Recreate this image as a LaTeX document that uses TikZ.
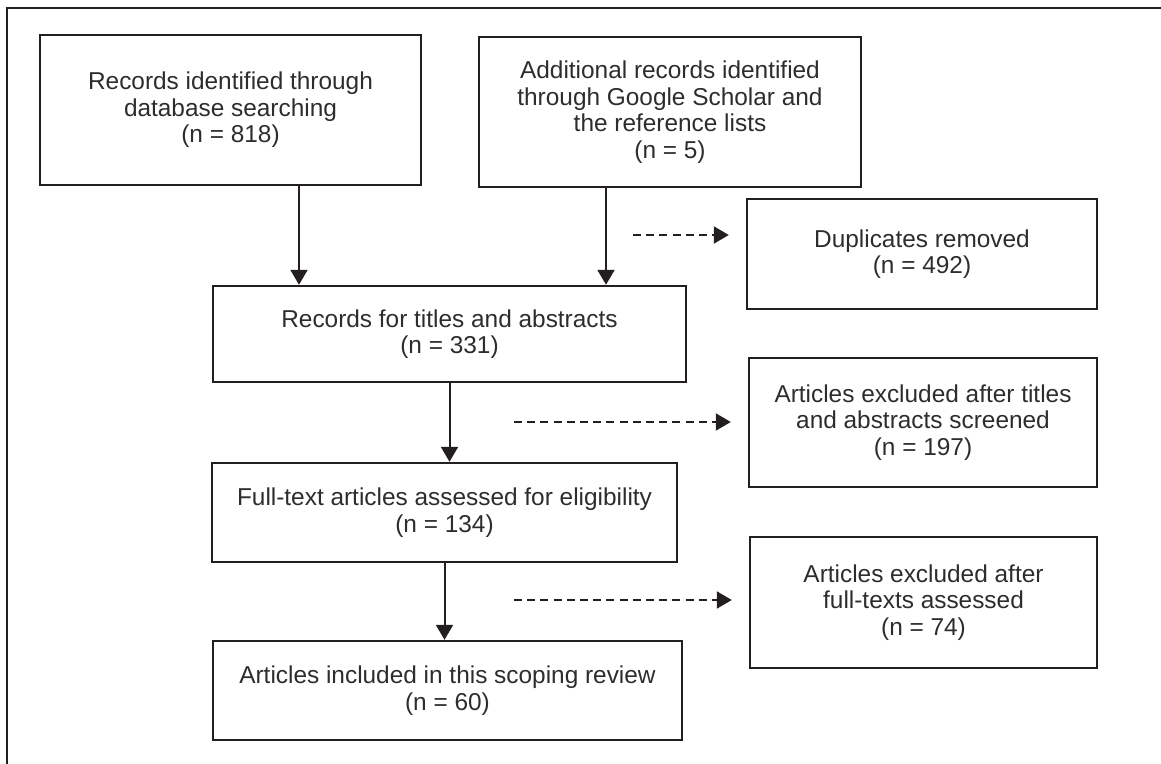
\documentclass[tikz,border=0pt]{standalone}
\usepackage{fontspec}
\setmainfont{Liberation Sans}
\usetikzlibrary{arrows.meta,positioning,calc}
\definecolor{prline}{RGB}{35,31,32}
\definecolor{prtext}{RGB}{45,45,45}
\tikzset{
    stagebox/.style={
        draw=prline,line width=1.2pt,align=center,text=prtext,
        inner sep=0pt,font=\fontsize{12.2}{13.3}\selectfont
    },
    flow/.style={
        -{Triangle[length=7.5pt,width=8.5pt]},line width=1pt,draw=prline
    },
    skip/.style={
        flow,dash pattern=on 4pt off 2.6pt
    }
}

\begin{document}
\begin{tikzpicture}[x=0.5pt,y=-0.5pt]
\useasboundingbox (0,0) rectangle (1161,764);

% frame
\draw[line width=1pt,draw=prline] (7,764) -- (7,8) -- (1161,8);

\node[stagebox,minimum width=190.5pt,minimum height=75pt]
at (230.5,110) (db){Records identified through\\database searching\\(n = 818)};

\node[stagebox,minimum width=191pt,minimum height=75pt]
at (670,112) (gs){Additional records identified\\through Google Scholar and\\the reference lists\\(n = 5)};

\node[stagebox,minimum width=175pt,minimum height=55pt]
at (922,254) (dup){Duplicates removed\\(n = 492)};

\node[stagebox,minimum width=236.5pt,minimum height=48pt]
at (449.5,334) (rec){Records for titles and abstracts\\(n = 331)};

\node[stagebox,minimum width=174pt,minimum height=64.5pt]
at (923,422.5) (exa){Articles excluded after titles\\and abstracts screened\\(n = 197)};

\node[stagebox,minimum width=232.5pt,minimum height=49.5pt]
at (444.5,512.5) (full){Full-text articles assessed for eligibility\\(n = 134)};

\node[stagebox,minimum width=173.5pt,minimum height=65.5pt]
at (923.5,602.5) (exf){Articles excluded after\\full-texts assessed\\(n = 74)};

\node[stagebox,minimum width=234.5pt,minimum height=49.5pt]
at (447.5,690.5) (inc){Articles included in this scoping review\\(n = 60)};

% solid arrows
\draw[flow]([xshift=34.25pt]db.south) -- ([xshift=34.25pt]db.south |- rec.north);
\draw[flow]([xshift=-32pt]gs.south) -- ([xshift=-32pt]gs.south |- rec.north);
\draw[flow](rec) -- (rec |- full.north);
\draw[flow](full) -- (full |- inc.north);

% dashed arrows
\coordinate (d1) at (633,235);
\coordinate (d2) at (514,422);
\coordinate (d3) at (514,600);
\draw[skip](d1) -- ([xshift=-8.5pt]dup.west |- d1);
\draw[skip](d2) -- ([xshift=-8.5pt]exa.west |- d2);
\draw[skip](d3) -- ([xshift=-8.5pt]exf.west |- d3);

\end{tikzpicture}
\end{document}
